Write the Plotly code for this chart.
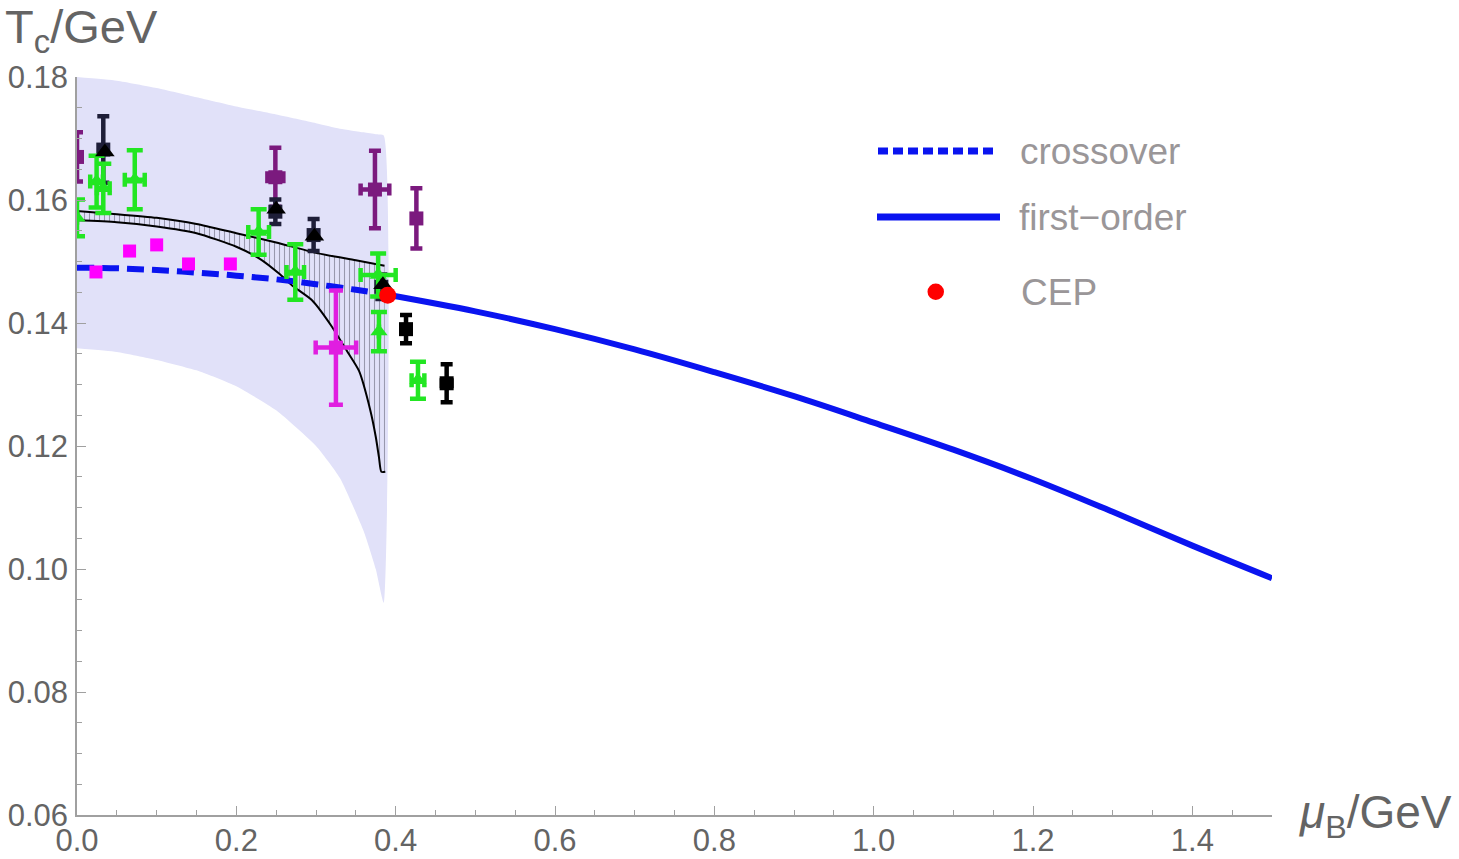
import plotly.graph_objects as go

# ---------------- data ----------------
band_mu = [0.0, 0.05, 0.1, 0.15, 0.2, 0.25, 0.3, 0.33, 0.36, 0.375, 0.385]
band_upper = [0.1800, 0.1794, 0.1782, 0.1767, 0.1752, 0.1739, 0.1725, 0.1716, 0.1710, 0.1707, 0.1705]
band_lower = [0.1359, 0.1353, 0.1340, 0.1323, 0.1297, 0.1258, 0.1200, 0.1148, 0.1061, 0.1000, 0.0945]

hatch_up_mu = [0.0, 0.05, 0.1, 0.15, 0.2, 0.25, 0.3, 0.35, 0.386]
hatch_up_T = [0.1582, 0.1577, 0.1571, 0.1561, 0.1546, 0.1531, 0.1514, 0.1502, 0.1493]
hatch_lo_mu = [0.0, 0.05, 0.1, 0.15, 0.2, 0.23, 0.254, 0.27, 0.295, 0.32, 0.34, 0.354,
               0.368, 0.375, 0.379, 0.382, 0.387]
hatch_lo_T = [0.1567, 0.1564, 0.1557, 0.1546, 0.1524, 0.1504, 0.1480, 0.1461, 0.1437,
              0.1394, 0.1352, 0.1322, 0.1259, 0.1215, 0.1182, 0.1158, 0.1158]

cross_mu = [0.0, 0.05, 0.1, 0.15, 0.2, 0.25, 0.3, 0.35, 0.39]
cross_T = [0.1490, 0.1489, 0.1486, 0.1482, 0.1477, 0.1471, 0.1463, 0.1454, 0.1446]

first_mu = [0.39, 0.5, 0.6, 0.7, 0.8, 0.9, 1.0, 1.1, 1.2, 1.3, 1.4, 1.5]
first_T = [0.1446, 0.1419, 0.1390, 0.1357, 0.1320, 0.1281, 0.1238, 0.1194, 0.1146,
           0.1093, 0.1038, 0.0985]

cep_mu = [0.390]
cep_T = [0.1445]

purple_mu = [0.0, 0.249, 0.374, 0.426]
purple_T = [0.1670, 0.1637, 0.1617, 0.1570]
purple_dT = [0.0040, 0.0048, 0.0063, 0.0049]
purple_dmu = [None, 0.010, 0.018, None]

dark_mu = [0.033, 0.249, 0.297, 0.382]
dark_T = [0.1682, 0.1581, 0.1543, 0.1459]
dark_dT = [0.0054, 0.0020, 0.0026, 0.0020]

black_mu = [0.413, 0.464]
black_T = [0.1390, 0.1302]
black_dT = [0.0023, 0.0031]
black_dmu = [0.005, 0.006]

tri_mu = [0.035, 0.250, 0.298, 0.384]
tri_T = [0.1678, 0.1585, 0.1541, 0.1462]

green_mu = [0.0, 0.0246, 0.033, 0.0725, 0.228, 0.274, 0.378, 0.379, 0.428]
green_T = [0.1571, 0.1630, 0.1619, 0.1633, 0.1548, 0.1483, 0.1478, 0.1386, 0.1307]
green_dT = [0.0030, 0.0042, 0.0040, 0.0048, 0.0037, 0.0045, 0.0035, 0.0032, 0.0030]
green_dmu = [None, 0.008, 0.008, 0.0125, 0.013, 0.011, 0.022, None, 0.008]

mag_mu = [0.0238, 0.066, 0.100, 0.140, 0.1925]
mag_T = [0.1483, 0.1517, 0.1527, 0.1496, 0.1496]

mag2_mu = [0.325]
mag2_T = [0.1360]
mag2_dT = [0.0093]
mag2_dmu = [0.0254]

x_ticks = [0.0, 0.2, 0.4, 0.6, 0.8, 1.0, 1.2, 1.4]
x_labels = ["0.0", "0.2", "0.4", "0.6", "0.8", "1.0", "1.2", "1.4"]
y_ticks = [0.06, 0.08, 0.10, 0.12, 0.14, 0.16, 0.18]
y_labels = ["0.06", "0.08", "0.10", "0.12", "0.14", "0.16", "0.18"]

legend_names = ["crossover", "first\u2212order", "CEP"]

# ---------------- figure ----------------
FONT = "Liberation Sans, Arial, sans-serif"
W, H = 1459, 859
ML, MR, MT, MB = 77, 187, 77, 44
PW, PH = W - ML - MR, H - MT - MB
BLUE = "#0A14F0"
GREEN = "#22E622"
PURPLE = "#7B1A7E"


def px(xp):
    return (xp - ML) / PW


def py(yp):
    return (H - MB - yp) / PH


fig = go.Figure()

# uncertainty band
fig.add_trace(go.Scatter(
    x=band_mu + band_mu[::-1], y=band_upper + band_lower[::-1],
    fill="toself", fillcolor="#E1E1F9", line=dict(width=0, shape="spline", smoothing=0.5),
    mode="lines", hoverinfo="skip"))

# hatched region
fig.add_trace(go.Scatter(
    x=hatch_up_mu + hatch_lo_mu[::-1], y=hatch_up_T + hatch_lo_T[::-1],
    fill="toself", fillcolor="rgba(0,0,0,0)", line=dict(width=0), mode="lines",
    fillpattern=dict(shape="|", fgcolor="#505062", bgcolor="rgba(0,0,0,0)",
                     size=5, solidity=0.22),
    hoverinfo="skip"))
fig.add_trace(go.Scatter(x=hatch_up_mu, y=hatch_up_T, mode="lines",
                         line=dict(color="black", width=2, shape="spline", smoothing=0.6)))
fig.add_trace(go.Scatter(x=hatch_lo_mu, y=hatch_lo_T, mode="lines",
                         line=dict(color="black", width=2, shape="spline", smoothing=0.6)))

# crossover
fig.add_trace(go.Scatter(x=cross_mu, y=cross_T, mode="lines",
                         line=dict(color=BLUE, width=6, dash="17px,8px", shape="spline")))

# purple
fig.add_trace(go.Scatter(
    x=purple_mu, y=purple_T, mode="markers",
    marker=dict(symbol="square", size=14, color=PURPLE),
    error_y=dict(type="data", array=purple_dT, color=PURPLE, thickness=4.5, width=6),
    error_x=dict(type="data", array=purple_dmu, color=PURPLE, thickness=4.5, width=6)))

# dark squares (inside band)
fig.add_trace(go.Scatter(
    x=dark_mu, y=dark_T, mode="markers",
    marker=dict(symbol="square", size=14, color="#1E1E38"),
    error_y=dict(type="data", array=dark_dT, color="#1E1E38", thickness=4.5, width=6)))

# black squares (outside band)
fig.add_trace(go.Scatter(
    x=black_mu, y=black_T, mode="markers",
    marker=dict(symbol="square", size=14, color="black"),
    error_y=dict(type="data", array=black_dT, color="black", thickness=4.5, width=6),
    error_x=dict(type="data", array=black_dmu, color="black", thickness=4.5, width=5)))

# green
fig.add_trace(go.Scatter(
    x=green_mu, y=green_T, mode="markers",
    marker=dict(symbol="triangle-up", size=15, color=GREEN),
    error_y=dict(type="data", array=green_dT, color=GREEN, thickness=4.5, width=8),
    error_x=dict(type="data", array=green_dmu, color=GREEN, thickness=4.5, width=7)))

# magenta
fig.add_trace(go.Scatter(
    x=mag_mu, y=mag_T, mode="markers",
    marker=dict(symbol="square", size=13, color="#FF00FF")))
fig.add_trace(go.Scatter(
    x=mag2_mu, y=mag2_T, mode="markers",
    marker=dict(symbol="square", size=14, color="#E01EE0"),
    error_y=dict(type="data", array=mag2_dT, color="#E01EE0", thickness=4.5, width=7),
    error_x=dict(type="data", array=mag2_dmu, color="#E01EE0", thickness=4.5, width=7)))

# black triangles
fig.add_trace(go.Scatter(
    x=tri_mu, y=tri_T, mode="markers",
    marker=dict(symbol="triangle-up", size=17, color="black")))

# first order
fig.add_trace(go.Scatter(x=first_mu, y=first_T, mode="lines",
                         line=dict(color=BLUE, width=6, shape="spline")))

# CEP
fig.add_trace(go.Scatter(x=cep_mu, y=cep_T, mode="markers",
                         marker=dict(symbol="circle", size=17, color="#FF0000")))

axis_common = dict(
    showline=True, linecolor="#A0A0A0", linewidth=1.5,
    ticks="inside", tickcolor="#A0A0A0", tickwidth=1.2,
    showgrid=False, zeroline=False, automargin=False,
    tickfont=dict(family=FONT, size=31, color="#646464"),
)

fig.update_xaxes(range=[0, 1.5], tickvals=x_ticks, ticktext=x_labels, ticklen=9,
                 minor=dict(ticks="inside", dtick=0.05, tick0=0, ticklen=5,
                            tickcolor="#A0A0A0", tickwidth=1.2, showgrid=False),
                 ticklabelstandoff=-3, **axis_common)
fig.update_yaxes(range=[0.06, 0.18], tickvals=y_ticks, ticktext=y_labels, ticklen=9,
                 minor=dict(ticks="inside", dtick=0.005, tick0=0.06, ticklen=5,
                            tickcolor="#A0A0A0", tickwidth=1.2, showgrid=False),
                 ticklabelstandoff=1, **axis_common)

shapes = [
    dict(type="line", xref="paper", yref="paper", x0=px(878), x1=px(998), y0=py(151), y1=py(151),
         line=dict(color=BLUE, width=7, dash="10px,5px")),
    dict(type="line", xref="paper", yref="paper", x0=px(877), x1=px(1000), y0=py(217), y1=py(217),
         line=dict(color=BLUE, width=7)),
    dict(type="circle", xref="paper", yref="paper", x0=px(927.5), x1=px(944), y0=py(300),
         y1=py(283.5), fillcolor="#FF0000", line=dict(width=0)),
]

LEG_FONT = dict(family=FONT, size=37, color="#9A9698")
annotations = [
    dict(xref="paper", yref="paper", x=px(1018), y=py(151), xanchor="left", yanchor="middle",
         text=legend_names[0], showarrow=False, font=LEG_FONT),
    dict(xref="paper", yref="paper", x=px(1017), y=py(217), xanchor="left", yanchor="middle",
         text=legend_names[1], showarrow=False, font=LEG_FONT),
    dict(xref="paper", yref="paper", x=px(1019), y=py(292), xanchor="left", yanchor="middle",
         text=legend_names[2], showarrow=False, font=LEG_FONT),
    dict(xref="paper", yref="paper", x=px(3), y=py(30), xanchor="left", yanchor="middle",
         text="T<sub>c</sub>/GeV", showarrow=False, font=dict(family=FONT, size=47, color="#646464")),
    dict(xref="paper", yref="paper", x=px(1297), y=py(815), xanchor="left", yanchor="middle",
         text="<i>μ</i><sub>B</sub>/GeV", showarrow=False, font=dict(family=FONT, size=46, color="#646464")),
]

fig.update_layout(
    width=W, height=H, margin=dict(l=ML, r=MR, t=MT, b=MB, pad=0, autoexpand=False),
    paper_bgcolor="white", plot_bgcolor="white", showlegend=False,
    shapes=shapes, annotations=annotations,
)

fig.write_html("out.html")
